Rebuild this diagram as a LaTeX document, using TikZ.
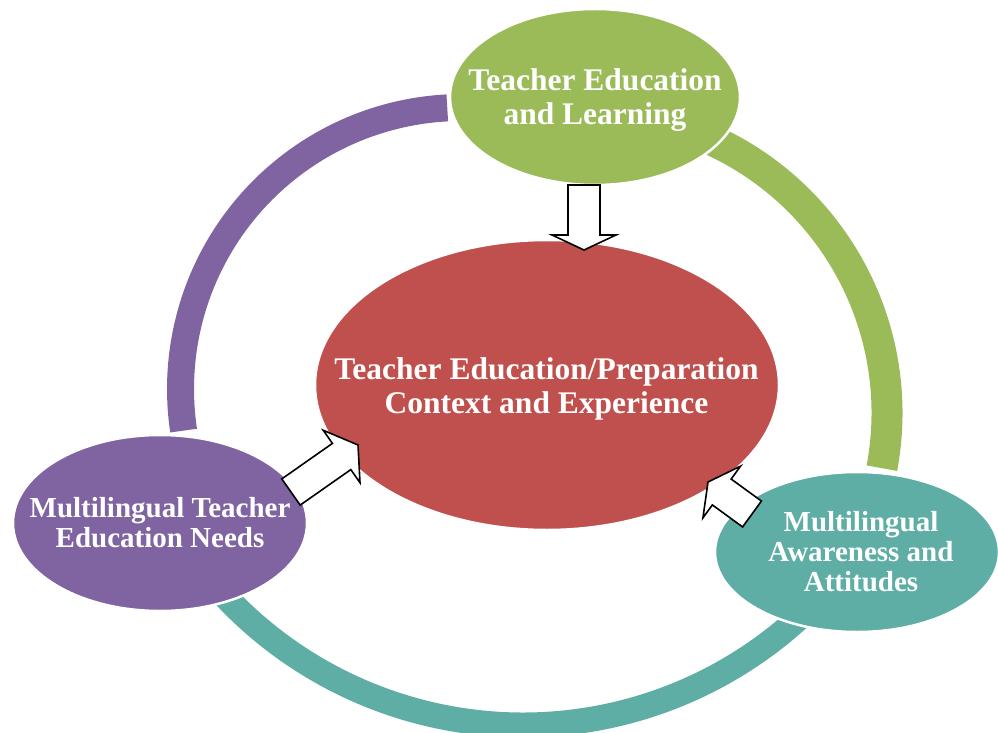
\documentclass[tikz,border=0pt]{standalone}
\usepackage{fontspec}
\setmainfont{Liberation Serif}
\usepackage{xcolor}
\usepackage{tikz}
\usetikzlibrary{shapes.geometric, calc}

\definecolor{verde}{HTML}{9BBB59}
\definecolor{rosso}{HTML}{C0504D}
\definecolor{viola}{HTML}{8064A2}
\definecolor{acqua}{HTML}{5EAEA5}

% freccia a blocco: partenza, punta, lunghezza della testa
\newcommand{\freccia}[3]{%
  \coordinate (h) at ($(#2)!#3!(#1)$);
  \draw[blocco] ($(#1)!16pt!90:(#2)$) -- ($(h)!16pt!-90:(#1)$) -- ($(h)!32pt!-90:(#1)$)
    -- (#2) -- ($(h)!32pt!90:(#1)$) -- ($(h)!16pt!90:(#1)$) -- ($(#1)!16pt!-90:(#2)$) -- cycle;}

\begin{document}
\begin{tikzpicture}[x=1pt, y=1pt,
    bolla/.style={ellipse, draw=white, line width=2.5pt, inner sep=0pt},
    testo/.style={text=white, align=center, font=\bfseries\fontsize{31.5}{34}\selectfont},
    testino/.style={text=white, align=center, font=\bfseries\fontsize{29}{30}\selectfont},
    blocco/.style={draw=black, fill=white, line width=1.6pt, line join=miter}]

    \useasboundingbox (0,0) rectangle (998,732);

    % Anello
    \draw[viola, line width=27pt] (462,343) ++(93:281.5) arc[start angle=93, end angle=188.5, radius=281.5];
    \draw[verde, line width=31pt] (587,319) ++(70:300) arc[start angle=70, end angle=-10.6, radius=300];
    \draw[acqua, line width=25pt] (523,416) ++(222:409) arc[start angle=222, end angle=313, radius=409];

    % Ellissi
    \node[bolla, fill=rosso, minimum width=464pt, minimum height=290pt] (centro) at (547,347) {};
    \node[bolla, fill=verde, minimum width=290pt, minimum height=176pt] (alto) at (595,635) {};
    \node[bolla, fill=viola, minimum width=294pt, minimum height=176pt] (sinistra) at (160,209) {};
    \node[bolla, fill=acqua, minimum width=284pt, minimum height=160pt] (destra) at (857,180) {};

    \node[testo] (altoT) at (alto) [yshift=-3pt] {Teacher Education\\and Learning};
    \node[testo] (centroT) at (546.5,343) {Teacher Education/Preparation\\Context and Experience};
    \node[testino] (sinistraT) at (sinistra) {Multilingual Teacher\\Education Needs};
    \node[testino] (destraT) at (861,180) {Multilingual\\Awareness and\\Attitudes};

    % Frecce
    \coordinate (a1) at (584,547);
    \coordinate (b1) at (584,482);
    \coordinate (a2) at (291,240);
    \coordinate (b2) at (358,287);
    \coordinate (a3) at (752,218);
    \coordinate (b3) at (708,250);
    \freccia{a1}{b1}{15pt}
    \freccia{a2}{b2}{20pt}
    \freccia{a3}{b3}{17pt}
\end{tikzpicture}
\end{document}
